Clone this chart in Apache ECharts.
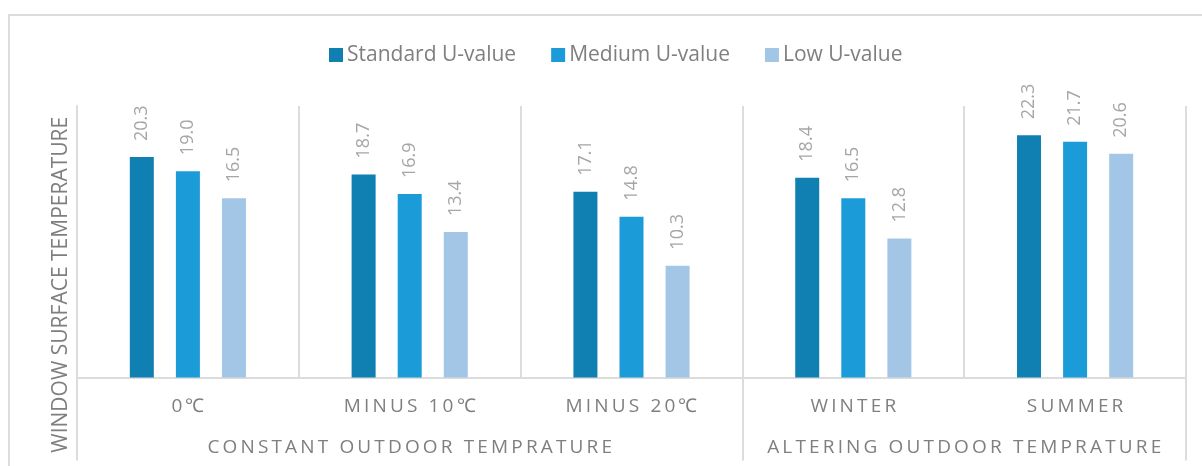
<!DOCTYPE html>
<html>
<head>
<meta charset="utf-8">
<script src="https://cdn.jsdelivr.net/npm/echarts@6/dist/echarts.min.js"></script>
<style>
  html, body { margin: 0; padding: 0; background: #fff; }
  #chart { width: 1202px; height: 466px; }
</style>
</head>
<body>
<div id="chart"></div>
<script>
// Window surface temperature by outdoor condition and glazing U-value
const categories = ['0℃', 'MINUS 10℃', 'MINUS 20℃', 'WINTER', 'SUMMER'];
const groupNames = ['CONSTANT OUTDOOR TEMPRATURE', 'ALTERING OUTDOOR TEMPRATURE'];
const groupSpans = [3, 2];
const seriesNames = ['Standard U-value', 'Medium U-value', 'Low U-value'];
const standardU = [20.3, 18.7, 17.1, 18.4, 22.3];
const mediumU = [19.0, 16.9, 14.8, 16.5, 21.7];
const lowU = [16.5, 13.4, 10.3, 12.8, 20.6];

const colors = ['#107fb2', '#1b9bd8', '#a3c6e7'];
const FONT = 'Open Sans';
const lineColor = '#dcdcdc';

// spread letters out a little (tracked capitals)
const track = s => s.split('').join('\u2009');

// group boundaries and centres along the category axis
const groupEdges = [0];
groupSpans.forEach(n => groupEdges.push(groupEdges[groupEdges.length - 1] + n));
const groupCenters = groupSpans.map((n, i) => groupEdges[i] + n / 2);

const chart = echarts.init(document.getElementById('chart'), null, { renderer: 'canvas' });

const label = {
  show: true,
  position: 'top',
  rotate: 90,
  align: 'left',
  verticalAlign: 'middle',
  distance: 16,
  color: '#a6a6a6',
  fontFamily: FONT,
  fontSize: 18,
  formatter: p => p.value.toFixed(1)
};

const data = [standardU, mediumU, lowU];

chart.setOption({
  animation: false,
  color: colors,
  graphic: [{
    type: 'rect',
    shape: { x: 9, y: 15, width: 1300, height: 600 },
    style: { fill: 'none', stroke: lineColor, lineWidth: 2 },
    silent: true
  }],
  legend: {
    data: seriesNames,
    left: 324,
    top: 39,
    itemWidth: 14,
    itemHeight: 14,
    itemGap: 35,
    icon: 'rect',
    textStyle: { color: '#7f7f7f', fontFamily: FONT, fontSize: 21, lineHeight: 22, padding: [0, 0, 0, -1] }
  },
  grid: { left: 77, right: 16, top: 106, bottom: 88.5, containLabel: false },
  xAxis: [{
    type: 'category',
    data: categories,
    position: 'bottom',
    axisLine: { show: true, lineStyle: { color: lineColor, width: 2 } },
    axisTick: { show: false },
    splitLine: { show: true, lineStyle: { color: lineColor, width: 2 } },
    axisLabel: {
      color: '#7f7f7f', fontFamily: FONT, fontSize: 19, margin: 20,
      formatter: v => track(v)
    }
  }, {
    type: 'value',
    min: 0,
    max: groupEdges[groupEdges.length - 1],
    position: 'bottom',
    axisLine: { show: false },
    splitLine: { show: false },
    axisTick: {
      show: true, length: 83, customValues: groupEdges,
      lineStyle: { color: lineColor, width: 2 }
    },
    axisLabel: {
      show: true, customValues: groupCenters, margin: 61,
      color: '#7f7f7f', fontFamily: FONT, fontSize: 19,
      formatter: v => {
        const i = groupCenters.indexOf(v);
        return i >= 0 ? track(groupNames[i]) : '';
      }
    }
  }],
  yAxis: {
    type: 'value',
    min: 0,
    max: 25,
    name: 'WINDOW SURFACE TEMPERATURE',
    nameLocation: 'middle',
    nameRotate: 90,
    nameGap: 5,
    nameTextStyle: { color: '#7f7f7f', fontFamily: FONT, fontSize: 21, padding: [0, 86, 0, 0] },
    axisLine: { show: true, lineStyle: { color: lineColor, width: 2 } },
    axisTick: { show: false },
    axisLabel: { show: false },
    splitLine: { show: false }
  },
  series: seriesNames.map((name, i) => ({
    name,
    type: 'bar',
    xAxisIndex: 0,
    data: data[i],
    barWidth: 24,
    barGap: '92%',
    label
  }))
});
</script>
</body>
</html>
